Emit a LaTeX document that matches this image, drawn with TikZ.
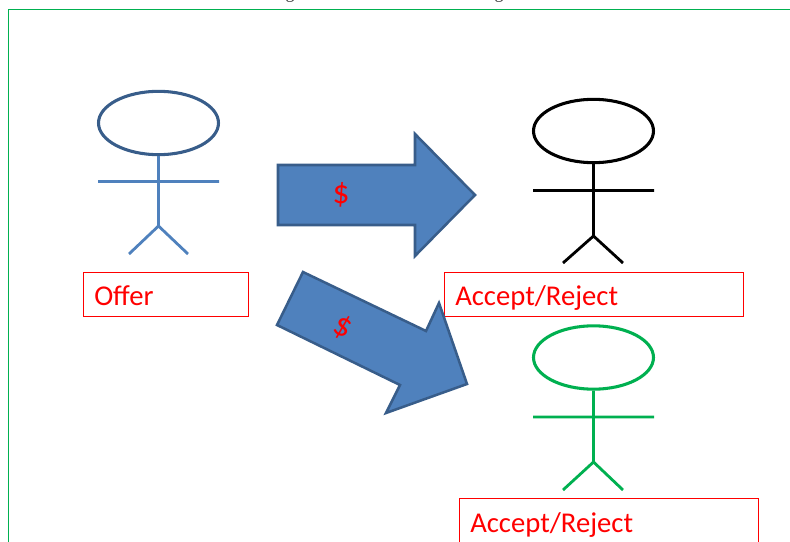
\documentclass[tikz,border=0pt]{standalone}
\usepackage{fontspec}
\setmainfont{Carlito}
\newfontfamily\clipfont{Liberation Serif}
\usetikzlibrary{shapes.geometric}
\definecolor{fblue}{HTML}{4F81BD}
\definecolor{dblue}{HTML}{385D8A}
\definecolor{fgreen}{HTML}{00B050}
\tikzset{
 x=0.75pt,y=-0.75pt,
 headshape/.style={draw=#1,ellipse,line width=2.3pt,minimum width=90pt,minimum height=47.5pt,inner sep=0pt,fill=white},
 limb/.style={draw=#1,line width=2.1pt},
 lblbox/.style={draw=red,line width=0.6pt,anchor=north west,inner sep=0pt},
 lbltext/.style={text=red,font=\fontsize{21.5}{24}\selectfont,inner sep=0pt,anchor=base west},
 bigarrow/.style={fill=fblue,draw=dblue,line width=1.9pt,miter limit=10},
 dollar/.style={text=red,font=\fontsize{25}{28}\selectfont,inner sep=0pt},
 cliptext/.style={text=black!80,font=\clipfont\fontsize{13.5}{15}\selectfont,inner sep=0pt,anchor=base}
}
\begin{document}
\begin{tikzpicture}
\useasboundingbox (0,0) rectangle (790,542);
\begin{scope}
\clip (0,0) rectangle (790,542);
% heading cut off by the top edge
\node[cliptext] (g1) at (290,-1) {g};
\node[cliptext] (g2) at (499,-1) {g};
% frame
\coordinate (fa) at (8.5,542);
\coordinate (fb) at (8.5,9.5);
\coordinate (fc) at (790,9.5);
\draw[fgreen,line width=0.6pt] (fa) -- (fb) -- (fc);
% figure 1
\node[headshape=dblue] (h1) at (158.5,123) {};
\coordinate (w1) at (158.5,226);
\coordinate (al1) at (98,181.5);
\coordinate (ar1) at (219,181.5);
\coordinate (ll1) at (129,254);
\coordinate (lr1) at (188,254);
\draw[limb=fblue] (h1.south) -- (w1) (al1) -- (ar1) (ll1) -- (w1) -- (lr1);
% figure 2
\node[headshape=black] (h2) at (593.5,131) {};
\coordinate (w2) at (593.5,236);
\coordinate (al2) at (533,190.5);
\coordinate (ar2) at (654,190.5);
\coordinate (ll2) at (563,263);
\coordinate (lr2) at (623,263);
\draw[limb=black] (h2.south) -- (w2) (al2) -- (ar2) (ll2) -- (w2) -- (lr2);
% figure 3
\node[headshape=fgreen] (h3) at (593.5,357.5) {};
\coordinate (w3) at (593.5,462);
\coordinate (al3) at (533,417);
\coordinate (ar3) at (654,417);
\coordinate (ll3) at (563,490);
\coordinate (lr3) at (623,490);
\draw[limb=fgreen] (h3.south) -- (w3) (al3) -- (ar3) (ll3) -- (w3) -- (lr3);
% labels
\node[lblbox,minimum width=124pt,minimum height=33pt] (b1) at (83,271.8) {};
\node[lbltext] (t1) at (94,305) {Offer};
% arrows
\draw[bigarrow] (278,165) -- (415,165) -- (415,134) -- (475,195) -- (415,256) -- (415,225) -- (278,225) -- cycle;
\node[dollar] (d1) at (341,195) {\$};
\node[lblbox,minimum width=224.6pt,minimum height=33pt] (b2) at (443.6,271.8) {};
\node[lbltext] (t2) at (455,305) {Accept/Reject};
\draw[bigarrow] (303,272) -- (426,331) -- (439,303) -- (467,384) -- (386,413) -- (400,385) -- (277,325) -- cycle;
\node[dollar,rotate=-26] (d2) at (343,327) {\$};
\node[lblbox,minimum width=224.6pt,minimum height=60pt] (b3) at (458.6,498) {};
\node[lbltext] (t3) at (470,532) {Accept/Reject};
\end{scope}
\end{tikzpicture}
\end{document}
